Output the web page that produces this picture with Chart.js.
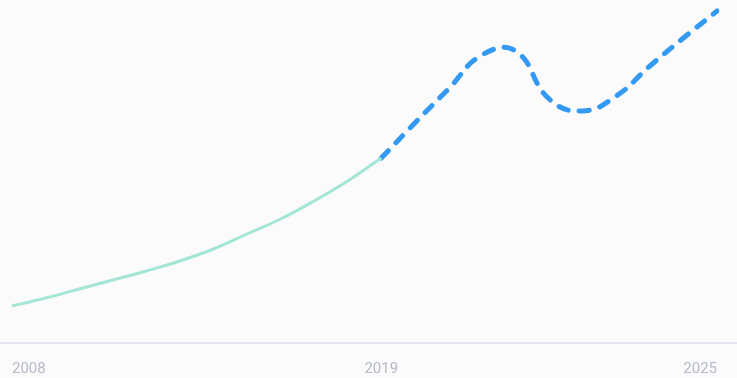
<!DOCTYPE html>
<html>
<head>
<meta charset="utf-8">
<script src="https://cdn.jsdelivr.net/npm/chart.js@4/dist/chart.umd.min.js"></script>
<style>
  html, body { margin: 0; padding: 0; background: #fbfbfc; }
  #wrap { width: 737px; height: 378px; }
</style>
</head>
<body>
<div id="wrap"><canvas id="myChart" width="737" height="378"></canvas></div>
<script>
// Kategori sumbu X (tahun; bagian proyeksi lebih rapat)
const categories = [
  '2008', '2009', '2010', '2011', '2012', '2013', '2014', '2015', '2016', '2017', '2018', '2019',
  '2019.6', '2020.2', '2020.8', '2021.4', '2022', '2022.6', '2023.2', '2023.8', '2024.4', '2025'
];

// Label yang ditampilkan di sumbu X
const tickLabels = ['2008', '2019', '2025'];

// Data historis (garis solid)
const historical = [3.6, 4.4, 5.3, 6.2, 7.1, 8.1, 9.3, 10.8, 12.3, 14.1, 16.1, 18.4,
  null, null, null, null, null, null, null, null, null, null];

// Data proyeksi (garis putus-putus)
const forecast = [null, null, null, null, null, null, null, null, null, null, null, 18.4,
  21.9, 25.3, 28.7, 29.1, 24.3, 23.1, 24.6, 27.6, 30.4, 33.1];

// Garis dasar selebar kanvas
const baseline = {
  id: 'baseline',
  beforeDatasetsDraw(chart) {
    const c = chart.ctx;
    const y = chart.chartArea.bottom + 1;
    c.save();
    c.strokeStyle = '#e2e5ee';
    c.lineWidth = 2;
    c.beginPath();
    c.moveTo(0, y);
    c.lineTo(chart.width, y);
    c.stroke();
    c.restore();
  }
};

const ctx = document.getElementById('myChart').getContext('2d');

new Chart(ctx, {
  type: 'line',
  data: {
    labels: categories,
    datasets: [
      {
        label: 'Historis',
        data: historical,
        borderColor: '#a3e6d5',
        borderWidth: 3,
        pointRadius: 0,
        tension: 0.4,
        fill: false
      },
      {
        label: 'Proyeksi',
        data: forecast,
        borderColor: '#3399f3',
        borderWidth: 5,
        borderDash: [10, 11],
        borderCapStyle: 'round',
        pointRadius: 0,
        tension: 0.45,
        fill: false
      }
    ]
  },
  options: {
    responsive: false,
    animation: false,
    layout: { padding: { left: 12, right: 20, top: 2, bottom: 0 } },
    plugins: {
      legend: { display: false },
      tooltip: { enabled: false }
    },
    scales: {
      x: {
        grid: {
          display: true,
          color: 'rgba(0,0,0,0)',
          drawOnChartArea: false,
          drawTicks: true,
          tickLength: 18
        },
        border: { display: false },
        ticks: {
          autoSkip: false,
          maxRotation: 0,
          align: 'inner',
          padding: 0,
          color: '#b4b9c6',
          font: { family: 'Roboto', size: 15 },
          callback: function(value) {
            const lbl = this.getLabelForValue(value);
            return tickLabels.includes(lbl) ? lbl : '';
          }
        }
      },
      y: {
        display: false,
        min: 0,
        max: 34
      }
    }
  },
  plugins: [baseline]
});
</script>
</body>
</html>
